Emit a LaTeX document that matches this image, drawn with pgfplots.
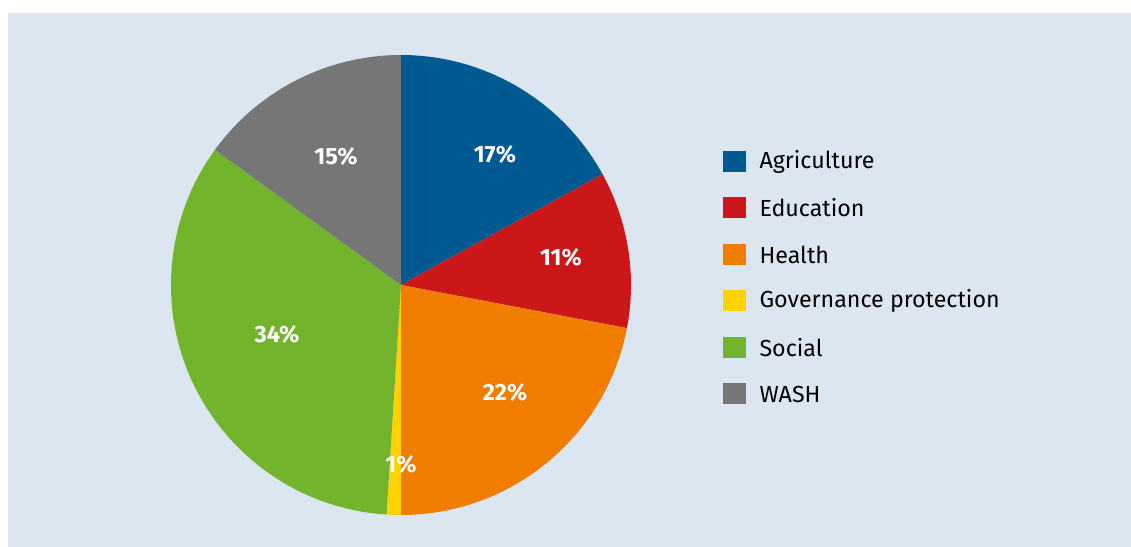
\documentclass[border=0pt]{standalone}
\usepackage{pgfplots}
\pgfplotsset{compat=1.18}
\usepackage{pgfplotstable}
\usepackage{fontspec}
\setmainfont{Fira Sans}
\definecolor{bg}{HTML}{DCE6F0}
\definecolor{cAgr}{HTML}{005A92}
\definecolor{cEdu}{HTML}{CC1719}
\definecolor{cHea}{HTML}{F07D00}
\definecolor{cGov}{HTML}{FFD200}
\definecolor{cSoc}{HTML}{72B52C}
\definecolor{cWas}{HTML}{767676}
\pgfplotstableread[col sep=comma]{
name,pct,col,lx,ly
Agriculture,17,cAgr,495,155
Education,11,cEdu,561,258
Health,22,cHea,505,393
Governance protection,1,cGov,401,465
Social,34,cSoc,277,335
WASH,15,cWas,336,157
}\piedata
\begin{document}
\begin{tikzpicture}
\begin{axis}[hide axis, x=0.4pt, y=0.4pt, xmin=0, xmax=1131, ymin=0, ymax=547,
  scale only axis, clip=false]
\fill[white] (axis cs:0,0) rectangle (axis cs:1131,547);
\fill[bg] (axis cs:8,0) rectangle (axis cs:1131,534);
\pgfplotsextra{
  \xdef\ang{90}
  \foreach \i in {0,...,5}{
    \pgfplotstablegetelem{\i}{pct}\of\piedata \let\myp\pgfplotsretval
    \pgfplotstablegetelem{\i}{col}\of\piedata \let\mycol\pgfplotsretval
    \pgfplotstablegetelem{\i}{lx}\of\piedata \let\mylx\pgfplotsretval
    \pgfplotstablegetelem{\i}{ly}\of\piedata \let\myly\pgfplotsretval
    \pgfplotstablegetelem{\i}{name}\of\piedata \let\myname\pgfplotsretval
    \pgfmathsetmacro\endang{\ang-3.6*\myp}
    \fill[fill=\mycol] (axis cs:401,262) -- (axis cs:{401+230*cos(\ang)},{262+230*sin(\ang)})
      arc[start angle=\ang, end angle=\endang, radius=92pt] -- cycle;
    \xdef\ang{\endang}
  }
  \foreach \i in {0,...,5}{
    \pgfplotstablegetelem{\i}{pct}\of\piedata \let\myp\pgfplotsretval
    \pgfplotstablegetelem{\i}{col}\of\piedata \let\mycol\pgfplotsretval
    \pgfplotstablegetelem{\i}{lx}\of\piedata \let\mylx\pgfplotsretval
    \pgfplotstablegetelem{\i}{ly}\of\piedata \let\myly\pgfplotsretval
    \pgfplotstablegetelem{\i}{name}\of\piedata \let\myname\pgfplotsretval
    \node[text=white, inner sep=0pt, font=\fontsize{9.4}{11}\selectfont\bfseries]
      at (axis cs:\mylx,{547-\myly}) {\myp\%};
    \pgfmathsetmacro\ly{547-(161.5+46.5*\i)}
    \fill[fill=\mycol] (axis cs:723,{\ly-10.5}) rectangle (axis cs:746,{\ly+10.5});
    \node[anchor=west, inner sep=0pt, font=\fontsize{9.3}{11}\selectfont]
      at (axis cs:759,\ly) {\myname};
  }
}
\end{axis}
\end{tikzpicture}
\end{document}
